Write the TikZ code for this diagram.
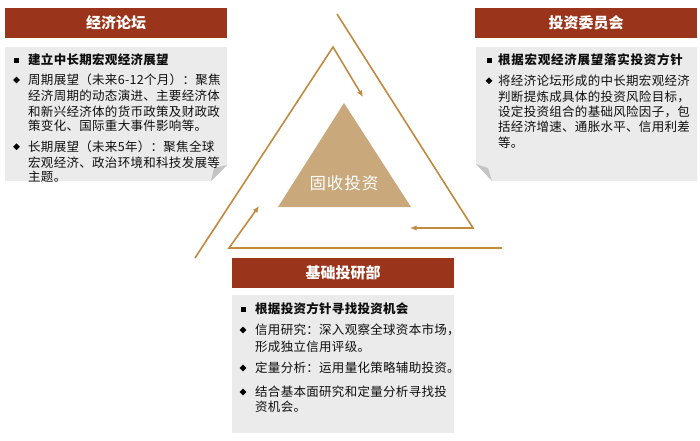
\documentclass[tikz,border=0pt]{standalone}
\usepackage{fontspec}
\setmainfont{Noto Sans CJK SC}
\newfontfamily\bodyfont[LetterSpace=2.4]{Noto Sans CJK SC}
\newfontfamily\widefont[LetterSpace=6]{Noto Sans CJK SC}
\usetikzlibrary{arrows.meta,shapes.geometric}
\definecolor{hdr}{RGB}{154,52,26}
\definecolor{boxgray}{RGB}{235,235,235}
\definecolor{foldgray}{RGB}{196,196,196}
\definecolor{gold}{RGB}{193,138,63}
\definecolor{tan}{RGB}{201,168,124}
\definecolor{txtc}{RGB}{15,15,15}
\tikzset{
  hdrbox/.style={fill=hdr,draw=none,minimum width=222pt,minimum height=30pt,inner sep=0pt,
    text=white,font=\fontsize{15}{17}\selectfont\bfseries},
  greybox/.style={fill=boxgray,draw=none},
  foldpart/.style={fill=foldgray,draw=none},
  txt/.style={anchor=base west,inner sep=0pt,text=txtc,font=\bodyfont\fontsize{12.5}{15}\selectfont},
  btxt/.style={txt,font=\bodyfont\fontsize{12.5}{15}\selectfont\bfseries},
  sqb/.style={rectangle,fill=black,minimum size=5pt,inner sep=0pt},
  dmb/.style={diamond,fill=black,minimum size=7pt,inner sep=0pt},
  flow/.style={draw=gold,line width=1.6pt,-{Latex[length=6.5pt,width=5.5pt]}},
  core/.style={fill=tan,draw=none}
}
\begin{document}
\begin{tikzpicture}[x=1pt,y=-1pt]
\useasboundingbox (0,0) rectangle (700,440);
\fill[white] (0,0) rectangle (700,440);

% ---------- flow lines ----------
\coordinate (a0) at (337,14);
\coordinate (a1) at (473,228);
\coordinate (a2) at (410,228);
\coordinate (b0) at (502,248);
\coordinate (b1) at (229,248);
\coordinate (b2) at (259,206);
\coordinate (c0) at (195,258);
\coordinate (c1) at (333,47);
\coordinate (c2) at (363,97);
\draw[flow] (a0) -- (a1) -- (a2);
\draw[flow] (b0) -- (b1) -- (b2);
\draw[flow] (c0) -- (c1) -- (c2);

% ---------- core triangle ----------
\fill[core] (344,103) -- (411,207) -- (278,207) -- cycle;
\node[text=white,inner sep=0pt,font=\widefont\fontsize{16.5}{18}\selectfont] (core) at (344,183) {固收投资};

% ---------- left panel ----------
\node[hdrbox] (h1) at (116,23) {经济论坛};
\fill[greybox] (5,47) -- (227,47) -- (227,165) -- (211,181) -- (5,181) -- cycle;
\fill[foldpart] (227,165) -- (211,181) -- (214,168) -- cycle;
\node[sqb] (l1b) at (16,60) {};
\node[btxt] (l1) at (28,64.7) {建立中长期宏观经济展望};
\node[dmb] (l2b) at (16.5,80) {};
\node[txt] (l2) at (28,84.7) {周期展望（未来6-12个月）：聚焦};
\node[txt] (l3) at (28,100.5) {经济周期的动态演进、主要经济体};
\node[txt] (l4) at (28,116.4) {和新兴经济体的货币政策及财政政};
\node[txt] (l5) at (28,130.8) {策变化、国际重大事件影响等。};
\node[dmb] (l6b) at (16.5,146.7) {};
\node[txt] (l6) at (28,151.4) {长期展望（未来5年）：聚焦全球};
\node[txt] (l7) at (28,167) {宏观经济、政治环境和科技发展等};
\node[txt] (l8) at (28,181.4) {主题。};

% ---------- right panel ----------
\node[hdrbox] (h2) at (586,23) {投资委员会};
\fill[greybox] (476,47) -- (697,47) -- (697,181) -- (492,181) -- (476,164) -- cycle;
\fill[foldpart] (476,164) -- (492,181) -- (488,168) -- cycle;
\node[sqb] (r1b) at (489,60) {};
\node[btxt,font=\widefont\fontsize{12.5}{15}\selectfont\bfseries] (r1) at (498,64.7) {根据宏观经济展望落实投资方针};
\node[dmb] (r2b) at (489,80.7) {};
\node[txt] (r2) at (498,85.4) {将经济论坛形成的中长期宏观经济};
\node[txt] (r3) at (498,101.4) {判断提炼成具体的投资风险目标，};
\node[txt] (r4) at (498,116.4) {设定投资组合的基础风险因子，包};
\node[txt] (r5) at (498,131.4) {括经济增速、通胀水平、信用利差};
\node[txt] (r6) at (498,147.4) {等。};

% ---------- bottom panel ----------
\node[hdrbox] (h3) at (343,273) {基础投研部};
\fill[greybox] (232,295) rectangle (454,433);
\node[sqb] (m1b) at (243,309) {};
\node[btxt] (m1) at (255,313.7) {根据投资方针寻找投资机会};
\node[dmb] (m2b) at (243,330) {};
\node[txt] (m2) at (255,334.7) {信用研究：深入观察全球资本市场，};
\node[txt] (m3) at (255,351.7) {形成独立信用评级。};
\node[dmb] (m4b) at (243,368) {};
\node[txt] (m4) at (255,372.7) {定量分析：运用量化策略辅助投资。};
\node[dmb] (m5b) at (243,392) {};
\node[txt] (m5) at (255,396.7) {结合基本面研究和定量分析寻找投};
\node[txt] (m6) at (255,411.7) {资机会。};
\end{tikzpicture}
\end{document}
